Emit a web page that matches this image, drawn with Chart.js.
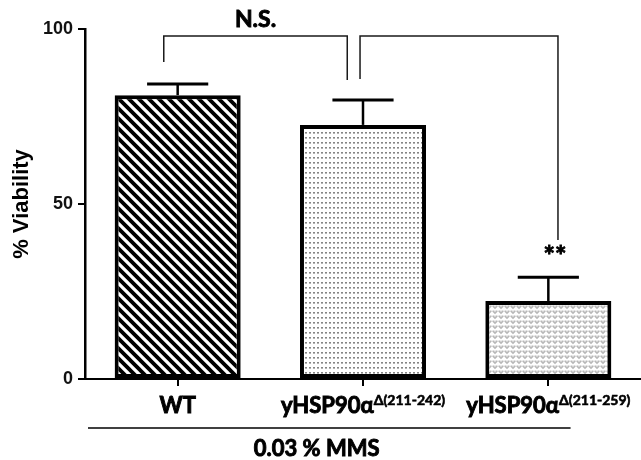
<!DOCTYPE html>
<html>
<head>
<meta charset="utf-8">
<script src="https://cdn.jsdelivr.net/npm/chart.js@4.4.0/dist/chart.umd.min.js"></script>
<style>
  html, body { margin: 0; padding: 0; background: #fff; }
  #wrap { width: 641px; height: 460px; position: relative; }
</style>
</head>
<body>
<div id="wrap"><canvas id="chart"></canvas></div>
<script>
// data
const categories = ['WT', 'yHSP90α', 'yHSP90α'];
const superscripts = ['', 'Δ(211-242)', 'Δ(211-259)'];
const viability = [81.1, 72.6, 22.3];
const errorUp = [3.2, 7.1, 6.8];
const yTicks = [0, 50, 100];
const groupLabel = '0.03 % MMS';

// significance brackets: category index + fractional offset, y in % viability
const brackets = [
  { from: 0, fromOff: -0.075, to: 1, toOff: -0.085, top: 98, leftEnd: 90.6, rightEnd: 85.4, label: 'N.S.', labelAt: 'top' },
  { from: 1, fromOff: -0.016, to: 2, toOff: 0.052, top: 98, leftEnd: 85.7, rightEnd: 39.7, label: '**', labelAt: 'right' },
];

const labelFont = "Lato, 'Noto Sans', sans-serif";

const makePattern = (w, h, draw) => {
  const c = document.createElement('canvas');
  c.width = w;
  c.height = h;
  const g = c.getContext('2d');
  g.fillStyle = '#fff';
  g.fillRect(0, 0, w, h);
  draw(g);
  return document.createElement('canvas').getContext('2d').createPattern(c, 'repeat');
};

// diagonal black stripes
const stripes = makePattern(10, 10, (g) => {
  g.strokeStyle = '#000';
  g.lineWidth = 3.8;
  g.beginPath();
  g.moveTo(-2, -2); g.lineTo(12, 12);
  g.moveTo(-12, -2); g.lineTo(2, 12);
  g.moveTo(8, -2); g.lineTo(22, 12);
  g.stroke();
});

// rows of small grey dots
const dots = makePattern(4, 5, (g) => {
  g.fillStyle = '#858585';
  g.fillRect(1, 2, 2, 1.6);
});

// light grey little heart marks
const vees = makePattern(6, 5, (g) => {
  g.fillStyle = '#b8b8b8';
  g.fillRect(0.5, 0.5, 2, 1.5);
  g.fillRect(3.5, 0.5, 2, 1.5);
  g.beginPath();
  g.moveTo(0.5, 1.8); g.lineTo(5.5, 1.8); g.lineTo(3, 4.2);
  g.closePath();
  g.fill();
});

const catPixel = (scale, idx, off) => {
  const w = (scale.right - scale.left) / categories.length;
  return scale.getPixelForValue(idx) + off * w;
};

const heavyText = (ctx, text, x, y) => {
  ctx.fillText(text, x, y);
  ctx.strokeText(text, x, y);
};

const annotations = {
  id: 'annotations',
  afterDatasetsDraw(chart) {
    const { ctx } = chart;
    const x = chart.scales.x;
    const y = chart.scales.y;
    const catW = (x.right - x.left) / categories.length;

    ctx.save();
    // error bars
    ctx.strokeStyle = '#000';
    viability.forEach((v, i) => {
      const cx = x.getPixelForValue(i);
      const yTop = y.getPixelForValue(v);
      const yErr = y.getPixelForValue(v + errorUp[i]);
      ctx.lineWidth = 2.5;
      ctx.beginPath();
      ctx.moveTo(cx, yTop);
      ctx.lineTo(cx, yErr);
      ctx.stroke();
      ctx.lineWidth = 3;
      ctx.beginPath();
      ctx.moveTo(cx - catW * 0.165, yErr);
      ctx.lineTo(cx + catW * 0.165, yErr);
      ctx.stroke();
    });

    // brackets
    brackets.forEach((b) => {
      const x1 = catPixel(x, b.from, b.fromOff);
      const x2 = catPixel(x, b.to, b.toOff);
      const yt = y.getPixelForValue(b.top);
      ctx.strokeStyle = '#1a1a1a';
      ctx.lineWidth = 1.5;
      ctx.beginPath();
      ctx.moveTo(x1, y.getPixelForValue(b.leftEnd));
      ctx.lineTo(x1, yt);
      ctx.lineTo(x2, yt);
      ctx.lineTo(x2, y.getPixelForValue(b.rightEnd));
      ctx.stroke();

      ctx.fillStyle = '#000';
      ctx.strokeStyle = '#000';
      ctx.lineWidth = 0.9;
      ctx.textAlign = 'center';
      ctx.textBaseline = 'middle';
      if (b.labelAt === 'top') {
        ctx.font = `bold 23px ${labelFont}`;
        heavyText(ctx, b.label, (x1 + x2) / 2, yt - 16);
      } else {
        ctx.font = `bold 27px ${labelFont}`;
        heavyText(ctx, b.label, x2 - 3, y.getPixelForValue(b.rightEnd) + 16);
      }
    });
    ctx.restore();
  },
  afterDraw(chart) {
    const { ctx } = chart;
    const x = chart.scales.x;
    const catW = (x.right - x.left) / categories.length;
    const base = x.top + 34;

    ctx.save();
    ctx.fillStyle = '#000';
    ctx.strokeStyle = '#000';
    ctx.lineWidth = 0.9;
    ctx.textBaseline = 'alphabetic';
    ctx.textAlign = 'left';
    categories.forEach((name, i) => {
      const cx = x.getPixelForValue(i);
      ctx.font = `bold 22px ${labelFont}`;
      const w1 = ctx.measureText(name).width;
      ctx.font = `bold 14px ${labelFont}`;
      const w2 = superscripts[i] ? ctx.measureText(superscripts[i]).width : 0;
      const start = cx - (w1 + w2) / 2;
      ctx.font = `bold 22px ${labelFont}`;
      heavyText(ctx, name, start, base);
      if (superscripts[i]) {
        ctx.font = `bold 14px ${labelFont}`;
        ctx.lineWidth = 0.6;
        heavyText(ctx, superscripts[i], start + w1, base - 8);
        ctx.lineWidth = 0.9;
      }
    });

    // group line and label
    const lineY = x.top + 49;
    ctx.lineWidth = 1.5;
    ctx.beginPath();
    ctx.moveTo(x.left + 3, lineY);
    ctx.lineTo(x.getPixelForValue(2) + catW * 0.12, lineY);
    ctx.stroke();

    ctx.font = `bold 22px ${labelFont}`;
    ctx.textAlign = 'center';
    ctx.lineWidth = 0.9;
    heavyText(ctx, groupLabel, x.left + catW * 1.25, x.top + 77);
    ctx.restore();
  },
};

new Chart(document.getElementById('chart'), {
  type: 'bar',
  data: {
    labels: categories,
    datasets: [
      {
        data: viability,
        backgroundColor: [stripes, dots, vees],
        borderColor: '#000',
        borderWidth: 4,
        borderSkipped: false,
        categoryPercentage: 1,
        barPercentage: 0.68,
      },
    ],
  },
  options: {
    responsive: true,
    maintainAspectRatio: false,
    animation: false,
    layout: { padding: { top: 29, right: 0, left: 0, bottom: 0 } },
    plugins: {
      legend: { display: false },
      tooltip: { enabled: false },
    },
    scales: {
      x: {
        afterFit: (s) => { s.height = 81; },
        border: { color: '#000', width: 2 },
        grid: {
          display: true,
          drawOnChartArea: false,
          drawTicks: true,
          tickLength: 7,
          color: '#000',
          lineWidth: 2,
          offset: false,
        },
        ticks: { callback: () => '' },
      },
      y: {
        min: 0,
        max: 100,
        afterFit: (s) => { s.width = 85; },
        afterBuildTicks: (s) => { s.ticks = yTicks.map((v) => ({ value: v })); },
        border: { color: '#000', width: 2.5 },
        grid: {
          display: true,
          drawOnChartArea: false,
          drawTicks: true,
          tickLength: 7,
          color: '#000',
          lineWidth: 2,
        },
        ticks: {
          padding: 5,
          color: '#111',
          font: { family: "'Liberation Sans', Arial, sans-serif", size: 18, weight: 'bold' },
        },
        title: {
          display: true,
          text: '% Viability',
          color: '#000',
          padding: { top: 9, bottom: 0 },
          font: { family: "'Liberation Sans', Arial, sans-serif", size: 22, weight: 'bold' },
        },
      },
    },
  },
  plugins: [annotations],
});
</script>
</body>
</html>
